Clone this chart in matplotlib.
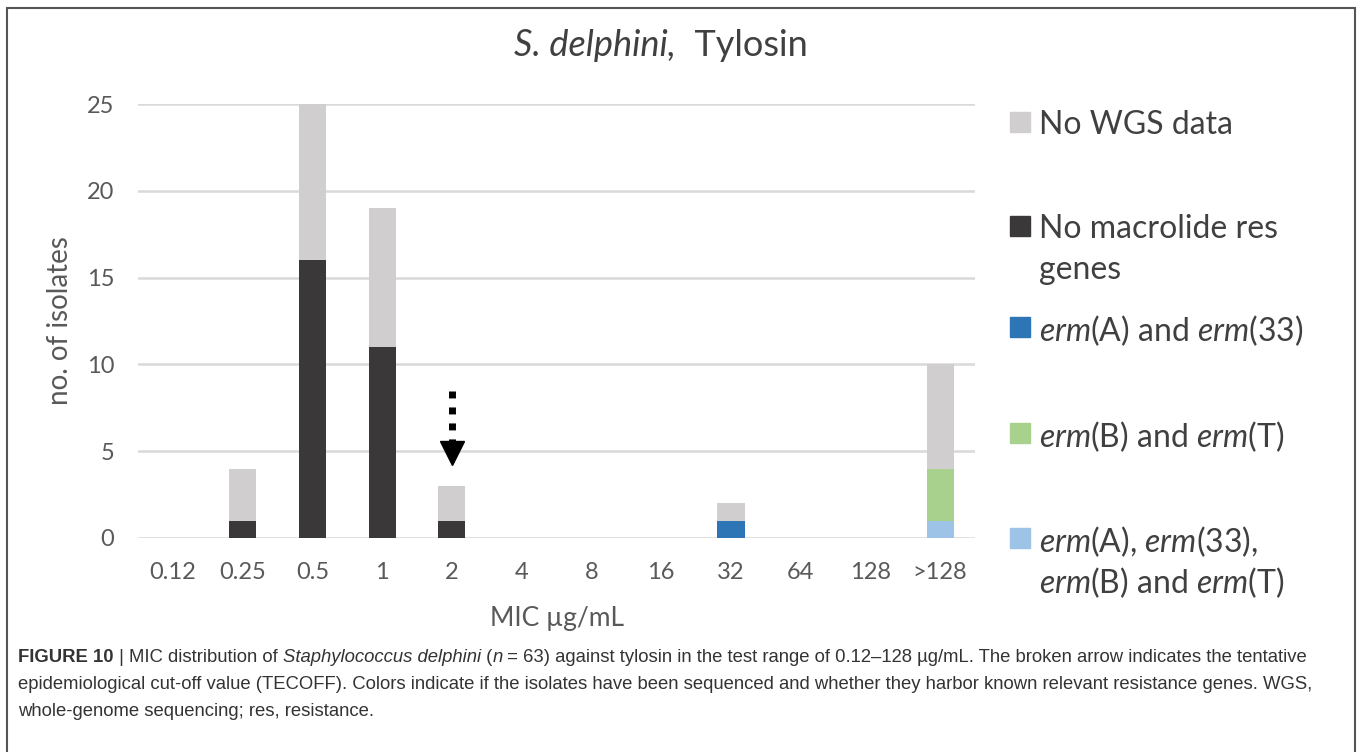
import matplotlib.pyplot as plt
from matplotlib.patches import Rectangle
import numpy as np

plt.rcParams['font.family'] = ['Lato', 'DejaVu Sans']
plt.rcParams['mathtext.fontset'] = 'custom'
plt.rcParams['mathtext.it'] = 'Lato:italic'
plt.rcParams['mathtext.rm'] = 'Lato'

# data
mic = ['0.12', '0.25', '0.5', '1', '2', '4', '8', '16', '32', '64', '128', '>128']
both_erm = [0, 0, 0, 0, 0, 0, 0, 0, 0, 0, 0, 1]      # erm(A), erm(33), erm(B), erm(T)
erm_b_t = [0, 0, 0, 0, 0, 0, 0, 0, 0, 0, 0, 3]
erm_a_33 = [0, 0, 0, 0, 0, 0, 0, 0, 1, 0, 0, 0]
no_res = [0, 1, 16, 11, 1, 0, 0, 0, 0, 0, 0, 0]
no_wgs = [0, 3, 9, 8, 2, 0, 0, 0, 1, 0, 0, 6]
tecoff = '2'

series = [
    (both_erm, '#9dc3e6'),
    (erm_b_t, '#a9d18e'),
    (erm_a_33, '#2e75b6'),
    (no_res, '#3a3838'),
    (no_wgs, '#d0cece'),
]
legend_items = [
    ('No WGS data', '#d0cece'),
    ('No macrolide res\ngenes', '#3a3838'),
    (r'$\mathit{erm}$(A) and $\mathit{erm}$(33)', '#2e75b6'),
    (r'$\mathit{erm}$(B) and $\mathit{erm}$(T)', '#a9d18e'),
    (r'$\mathit{erm}$(A), $\mathit{erm}$(33),' + '\n' + r'$\mathit{erm}$(B) and $\mathit{erm}$(T)', '#9dc3e6'),
]

title_runs = [('S. delphini,', 'normal', 'italic'), ('  Tylosin', 'normal', 'normal')]

# caption runs: (text, weight, style)
caption_lines = [
    [('FIGURE 10', 'bold', 'normal'), (' | MIC distribution of ', 'normal', 'normal'),
     ('Staphylococcus delphini', 'normal', 'italic'), (' (', 'normal', 'normal'),
     ('n', 'normal', 'italic'),
     (' = 63) against tylosin in the test range of 0.12–128 µg/mL. The broken arrow indicates the tentative',
      'normal', 'normal')],
    [('epidemiological cut-off value (TECOFF). Colors indicate if the isolates have been sequenced '
      'and whether they harbor known relevant resistance genes. WGS,', 'normal', 'normal')],
    [('whole-genome sequencing; res, resistance.', 'normal', 'normal')],
]

fig = plt.figure(figsize=(13.58, 7.52), dpi=100)
ax = fig.add_axes([0.1016, 0.2846, 0.6164, 0.5771])
renderer = fig.canvas.get_renderer()


def write_runs(runs, x0, y0, size, color, family, va):
    xx = x0
    for txt, wt, st in runs:
        t = fig.text(xx, y0, txt, fontsize=size, color=color, va=va,
                     family=family, weight=wt, style=st)
        bb = t.get_window_extent(renderer)
        xx = fig.transFigure.inverted().transform((bb.x1, bb.y0))[0]


x = np.arange(len(mic))
bottom = np.zeros(len(mic))
for vals, col in series:
    ax.bar(x, vals, width=0.39, bottom=bottom, color=col, zorder=3)
    bottom += np.array(vals)

ax.set_xlim(-0.5, len(mic) - 0.5)
ax.set_ylim(0, 25)
ax.set_yticks([0, 5, 10, 15, 20, 25])
ax.set_xticks(x)
ax.set_xticklabels(mic)
ax.yaxis.grid(True, color='#d9d9d9', lw=1.8, zorder=0)
for s in ax.spines.values():
    s.set_visible(False)
ax.tick_params(length=0, labelsize=17, colors='#595959')
ax.tick_params(axis='x', pad=17)
ax.tick_params(axis='y', pad=17)
ax.set_xlabel('MIC µg/mL', fontsize=19, color='#595959', labelpad=17)
ax.set_ylabel('no. of isolates', fontsize=20, color='#595959', labelpad=10)

# tentative cut-off arrow
i = mic.index(tecoff)
top = bottom[i]
ax.plot([i, i], [top + 5.47, top + 2.3], ls=(0, (1.0, 1.3)), lw=5, color='black',
        dash_capstyle='butt', zorder=4)
ax.plot(i, top + 1.9, marker='v', ms=17, color='black', zorder=4)

# title
write_runs(title_runs, 0.3785, 0.925, 26, '#404040', ['Lato', 'DejaVu Sans'], 'baseline')

# legend drawn by hand to keep the spacing of the original
leg_y = [0.8378, 0.6995, 0.5655, 0.4242, 0.2845]
line_gap = 0.0545
for (label, col), yy in zip(legend_items, leg_y):
    fig.patches.append(Rectangle((0.7435, yy - 0.0133), 0.0147, 0.0266, transform=fig.transFigure,
                                 color=col))
    for k, part in enumerate(label.split('\n')):
        fig.text(0.765, yy - k * line_gap, part, fontsize=23, color='#404040',
                 va='center_baseline')

# outer frame
fig.patches.append(Rectangle((0.005, -0.01), 0.993, 1.0, transform=fig.transFigure,
                             fill=False, edgecolor='#555555', lw=1.5))

# caption
for line, yy in zip(caption_lines, [0.126, 0.090, 0.054]):
    write_runs(line, 0.0135, yy, 13.3, '#333333', 'Liberation Sans', 'center')

fig.savefig('out.png', dpi=100)
